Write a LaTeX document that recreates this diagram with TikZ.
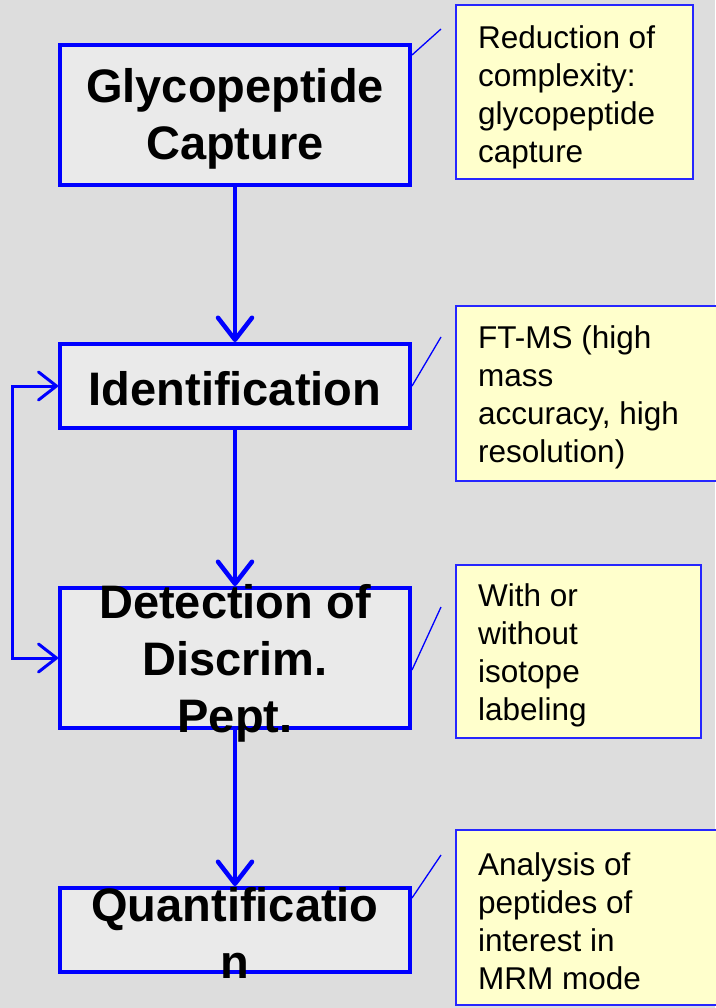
\documentclass[tikz,border=0pt]{standalone}
\usepackage{fontspec}
\setmainfont{Liberation Sans}
\usetikzlibrary{arrows.meta}
\definecolor{bg}{HTML}{DDDDDD}
\definecolor{boxfill}{HTML}{EAEAEA}
\definecolor{notefill}{HTML}{FFFFCC}
\definecolor{pblue}{HTML}{0000FF}
\tikzset{
  stepbox/.style={draw=pblue, line width=4pt, fill=boxfill, rectangle, minimum width=350pt, inner sep=0pt},
  steptext/.style={align=center, font=\fontsize{47}{57}\selectfont\bfseries, inner sep=0pt},
  notebox/.style={draw=pblue!85!white, line width=1.3pt, fill=notefill, rectangle, inner sep=0pt},
  notetext/.style={align=left, anchor=west, font=\fontsize{31.5}{38}\selectfont, inner sep=0pt},
  flow/.style={draw=pblue, line width=4.5pt, -{Straight Barb[length=22pt,width=34pt,round]}},
  back/.style={draw=pblue, line width=3pt, {Straight Barb[length=18pt,width=28pt,round]}-{Straight Barb[length=18pt,width=28pt,round]}},
  leader/.style={draw=pblue, line width=1.3pt}
}
\begin{document}
\begin{tikzpicture}[x=1pt,y=-1pt]
\fill[bg] (0,0) rectangle (715,1008);
\useasboundingbox (0,0) rectangle (715,1008);

% step boxes
\node[stepbox, minimum height=140pt] (b1) at (235,115) {};
\node[stepbox, minimum height=84pt] (b2) at (235,386) {};
\node[stepbox, minimum height=140pt] (b3) at (235,658) {};
\node[stepbox, minimum height=84pt] (b4) at (235,930) {};

% connectors
\draw[flow] (b1.south) -- (b2.north);
\draw[flow] (b2.south) -- (b3.north);
\draw[flow] (b3.south) -- (b4.north);
\draw[back] (b3.west) -- ++(-46,0) |- (b2.west);

% step texts
\node[steptext] (t1) at (235,119) {Glycopeptide\\Capture};
\node[steptext] (t2) at (235,389) {Identification};
\node[steptext] (t3) at (235,663) {Detection of\\Discrim.\\Pept.};
\node[steptext] (t4) at (235,933) {Quantificatio\\n};

% notes
\node[notebox, minimum width=237pt, minimum height=174pt] (n1) at (574.5,92) {};
\node[notebox, minimum width=264pt, minimum height=175pt] (n2) at (588,393.5) {};
\node[notebox, minimum width=245pt, minimum height=173pt] (n3) at (578.5,651.5) {};
\node[notebox, minimum width=264pt, minimum height=175pt] (n4) at (588,917.5) {};

\node[notetext] (m1) at (478,97) {Reduction of\\complexity:\\glycopeptide\\capture};
\node[notetext] (m2) at (478,397) {FT-MS (high\\mass\\accuracy, high\\resolution)};
\node[notetext] (m3) at (478,655) {With or\\without\\isotope\\labeling};
\node[notetext] (m4) at (478,921) {Analysis of\\peptides of\\interest in\\MRM mode};

% leader lines
\coordinate (q1) at (441,29);
\coordinate (q2) at (441,337);
\coordinate (q3) at (441,607);
\coordinate (q4) at (441,855);
\draw[leader] ([yshift=-12pt]b1.north east) -- (q1);
\draw[leader] (b2.east) -- (q2);
\draw[leader] ([yshift=-12pt]b3.east) -- (q3);
\draw[leader] ([yshift=-12pt]b4.north east) -- (q4);
\end{tikzpicture}
\end{document}
